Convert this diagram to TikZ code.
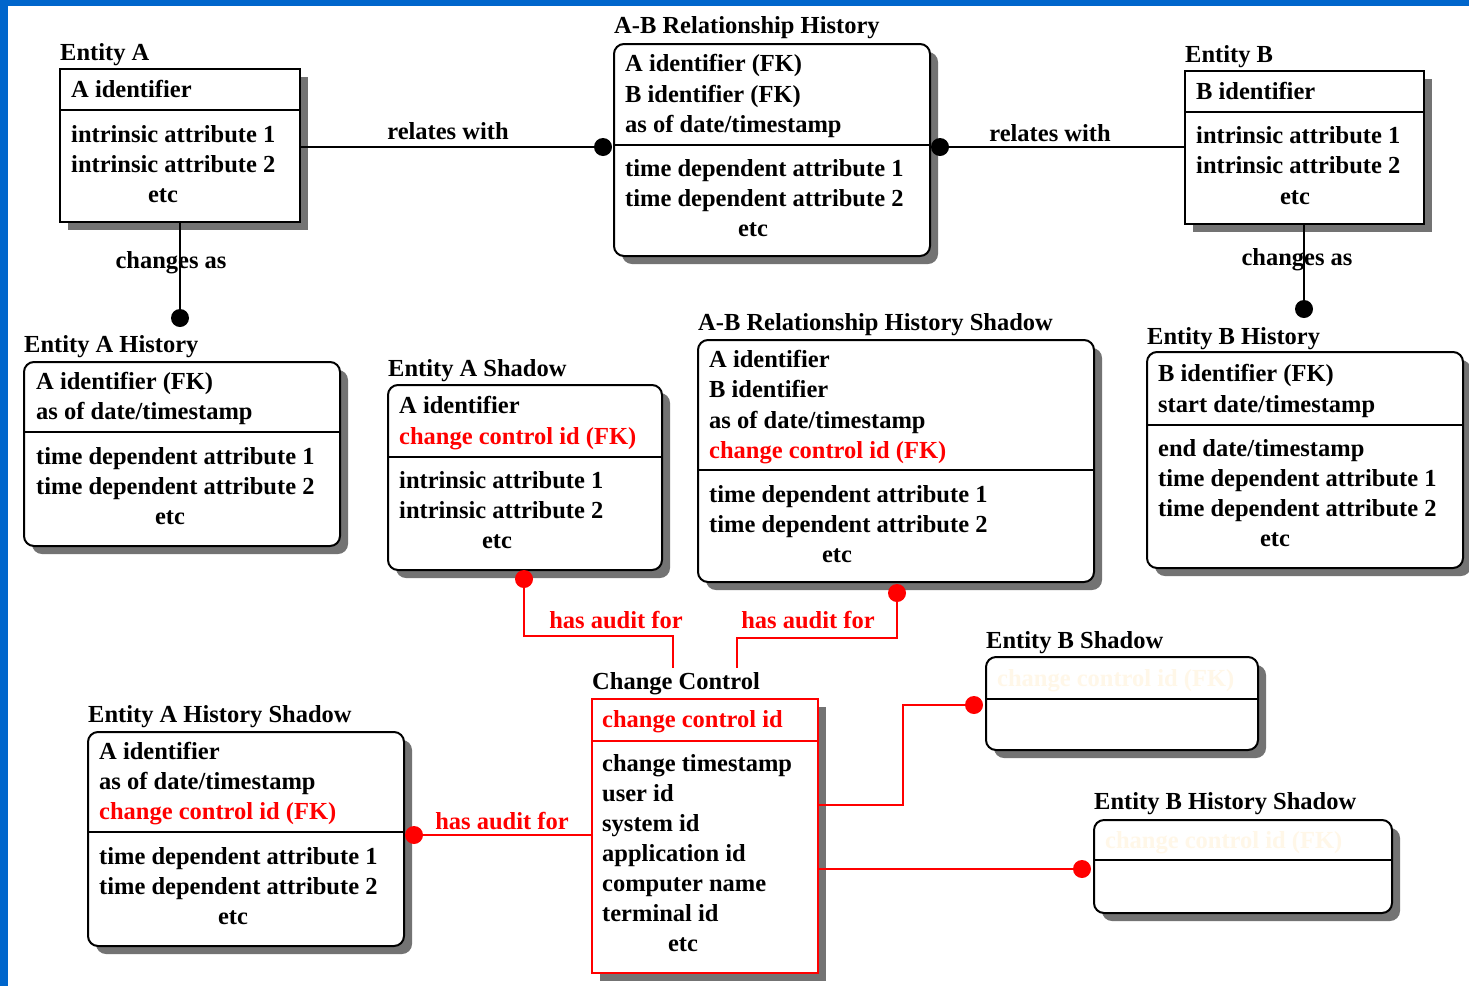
\documentclass[tikz,border=0pt]{standalone}
\usepackage{fontspec}
\setmainfont{Liberation Serif}
\usetikzlibrary{shadows}

\definecolor{frameblue}{RGB}{0,102,204}
\definecolor{auditred}{RGB}{255,0,0}
\definecolor{ghost}{RGB}{255,247,232}

\tikzset{
  box/.style={draw, line width=2pt, fill=white, inner sep=0pt, outer sep=0pt,
    drop shadow={shadow xshift=8pt, shadow yshift=-8pt, fill=black!55, opacity=1}},
  sqbox/.style={box},
  rbox/.style={box, rounded corners=10pt},
  redbox/.style={box, draw=auditred},
  txt/.style={anchor=base west, inner sep=0pt, font=\fontsize{24.5}{30}\selectfont\bfseries},
  ctxt/.style={txt, anchor=base},
  redtxt/.style={txt, text=auditred},
  redctxt/.style={ctxt, text=auditred},
  ghosttxt/.style={txt, text=ghost},
  divider/.style={line width=2pt},
  reddivider/.style={line width=2pt, draw=auditred},
  conn/.style={line width=2pt},
  rconn/.style={line width=2pt, draw=auditred},
  bdot/.style={circle, fill=black, minimum size=18pt, inner sep=0pt},
  rdot/.style={circle, fill=auditred, minimum size=18pt, inner sep=0pt},
}

% one line of text: [style]{name}{x}{baseline y}{text}
\newcommand{\attr}[5][txt]{\node[#1] (#2) at (#3,#4) {#5};}

\begin{document}
\begin{tikzpicture}[x=1pt,y=-1pt]
\useasboundingbox (0,0) rectangle (1469,986);
\fill[white] (0,0) rectangle (1469,986);
\fill[frameblue] (0,0) rectangle (1469,6);
\fill[frameblue] (0,0) rectangle (8,986);

% ---------- entity boxes ----------
\node[sqbox, minimum width=240pt, minimum height=153pt] (ea)   at (180,145.5) {};
\node[rbox,  minimum width=316pt, minimum height=212pt] (ab)   at (772,150)   {};
\node[sqbox, minimum width=239pt, minimum height=153pt] (eb)   at (1304.5,147.5) {};
\node[rbox,  minimum width=316pt, minimum height=184pt] (eah)  at (182,454)   {};
\node[rbox,  minimum width=316pt, minimum height=216pt] (ebh)  at (1305,460)  {};
\node[rbox,  minimum width=274pt, minimum height=185pt] (eas)  at (525,477.5) {};
\node[rbox,  minimum width=396pt, minimum height=242pt] (abs)  at (896,461)   {};
\node[redbox,minimum width=226pt, minimum height=274pt] (cc)   at (705,836)   {};
\node[rbox,  minimum width=316pt, minimum height=214pt] (eahs) at (246,839)   {};
\node[rbox,  minimum width=272pt, minimum height=93pt]  (ebs)  at (1122,703.5){};
\node[rbox,  minimum width=298pt, minimum height=93pt]  (ebhs) at (1243,866.5){};

% ---------- key / attribute dividers ----------
\draw[divider] (ea.west |- 0,110) -- (ea.east |- 0,110);
\draw[divider] (ab.west |- 0,145) -- (ab.east |- 0,145);
\draw[divider] (eb.west |- 0,112) -- (eb.east |- 0,112);
\draw[divider] (eah.west |- 0,432) -- (eah.east |- 0,432);
\draw[divider] (ebh.west |- 0,425) -- (ebh.east |- 0,425);
\draw[divider] (eas.west |- 0,457) -- (eas.east |- 0,457);
\draw[divider] (abs.west |- 0,470) -- (abs.east |- 0,470);
\draw[reddivider] (cc.west |- 0,741) -- (cc.east |- 0,741);
\draw[divider] (eahs.west |- 0,832) -- (eahs.east |- 0,832);
\draw[divider] (ebs.west |- 0,699) -- (ebs.east |- 0,699);
\draw[divider] (ebhs.west |- 0,860) -- (ebhs.east |- 0,860);

% ---------- titles ----------
\attr{ea-title}{60}{60}{Entity A}
\attr{ab-title}{614}{33}{A-B Relationship History}
\attr{eb-title}{1185}{62}{Entity B}
\attr{eah-title}{24}{352}{Entity A History}
\attr{ebh-title}{1147}{344}{Entity B History}
\attr{eas-title}{388}{376}{Entity A Shadow}
\attr{abs-title}{698}{330}{A-B Relationship History Shadow}
\attr{ebs-title}{986}{648}{Entity B Shadow}
\attr{cc-title}{592}{689}{Change Control}
\attr{eahs-title}{88}{722}{Entity A History Shadow}
\attr{ebhs-title}{1094}{809}{Entity B History Shadow}

% ---------- Entity A ----------
\attr{ea-k1}{71}{97}{A identifier}
\attr{ea-a1}{71}{142}{intrinsic attribute 1}
\attr{ea-a2}{71}{172}{intrinsic attribute 2}
\attr[ctxt]{ea-etc}{163}{202}{etc}

% ---------- A-B Relationship History ----------
\attr{ab-k1}{625}{71}{A identifier (FK)}
\attr{ab-k2}{625}{102}{B identifier (FK)}
\attr{ab-k3}{625}{132}{as of date/timestamp}
\attr{ab-a1}{625}{176}{time dependent attribute 1}
\attr{ab-a2}{625}{206}{time dependent attribute 2}
\attr[ctxt]{ab-etc}{753}{236}{etc}

% ---------- Entity B ----------
\attr{eb-k1}{1196}{99}{B identifier}
\attr{eb-a1}{1196}{143}{intrinsic attribute 1}
\attr{eb-a2}{1196}{173}{intrinsic attribute 2}
\attr[ctxt]{eb-etc}{1295}{204}{etc}

% ---------- Entity A History ----------
\attr{eah-k1}{36}{389}{A identifier (FK)}
\attr{eah-k2}{36}{419}{as of date/timestamp}
\attr{eah-a1}{36}{464}{time dependent attribute 1}
\attr{eah-a2}{36}{494}{time dependent attribute 2}
\attr[ctxt]{eah-etc}{170}{524}{etc}

% ---------- Entity B History ----------
\attr{ebh-k1}{1158}{381}{B identifier (FK)}
\attr{ebh-k2}{1158}{412}{start date/timestamp}
\attr{ebh-a1}{1158}{456}{end date/timestamp}
\attr{ebh-a2}{1158}{486}{time dependent attribute 1}
\attr{ebh-a3}{1158}{516}{time dependent attribute 2}
\attr[ctxt]{ebh-etc}{1275}{546}{etc}

% ---------- Entity A Shadow ----------
\attr{eas-k1}{399}{413}{A identifier}
\attr[redtxt]{eas-k2}{399}{444}{change control id (FK)}
\attr{eas-a1}{399}{488}{intrinsic attribute 1}
\attr{eas-a2}{399}{518}{intrinsic attribute 2}
\attr[ctxt]{eas-etc}{497}{548}{etc}

% ---------- A-B Relationship History Shadow ----------
\attr{abs-k1}{709}{367}{A identifier}
\attr{abs-k2}{709}{397}{B identifier}
\attr{abs-k3}{709}{428}{as of date/timestamp}
\attr[redtxt]{abs-k4}{709}{458}{change control id (FK)}
\attr{abs-a1}{709}{502}{time dependent attribute 1}
\attr{abs-a2}{709}{532}{time dependent attribute 2}
\attr[ctxt]{abs-etc}{837}{562}{etc}

% ---------- Change Control ----------
\attr[redtxt]{cc-k1}{602}{727}{change control id}
\attr{cc-a1}{602}{771}{change timestamp}
\attr{cc-a2}{602}{801}{user id}
\attr{cc-a3}{602}{831}{system id}
\attr{cc-a4}{602}{861}{application id}
\attr{cc-a5}{602}{891}{computer name}
\attr{cc-a6}{602}{921}{terminal id}
\attr[ctxt]{cc-etc}{683}{951}{etc}

% ---------- Entity A History Shadow ----------
\attr{eahs-k1}{99}{759}{A identifier}
\attr{eahs-k2}{99}{789}{as of date/timestamp}
\attr[redtxt]{eahs-k3}{99}{819}{change control id (FK)}
\attr{eahs-a1}{99}{864}{time dependent attribute 1}
\attr{eahs-a2}{99}{894}{time dependent attribute 2}
\attr[ctxt]{eahs-etc}{233}{924}{etc}

% ---------- Entity B Shadow / Entity B History Shadow ----------
\attr[ghosttxt]{ebs-k1}{997}{686}{change control id (FK)}
\attr[ghosttxt]{ebhs-k1}{1105}{848}{change control id (FK)}

% ---------- relationship ends ----------
\node[bdot] (ab-left)  at (603,147) {};
\node[bdot] (ab-right) at (940,147) {};
\node[bdot] (eah-top)  at (180,318) {};
\node[bdot] (ebh-top)  at (1304,309) {};
\node[rdot] (eas-bot)  at (524,579) {};
\node[rdot] (abs-bot)  at (897,593) {};
\node[rdot] (eahs-right) at (414,835) {};
\node[rdot] (ebs-left) at (974,705) {};
\node[rdot] (ebhs-left) at (1082,869) {};
\coordinate (cc-top1) at (673,668);
\coordinate (cc-top2) at (737,668);

% ---------- black connectors ----------
\draw[conn] (ea.east |- ab-left) -- (ab-left);
\draw[conn] (ab-right) -- (eb.west |- ab-right);
\draw[conn] (ea.south -| eah-top) -- (eah-top);
\draw[conn] (eb.south -| ebh-top) -- (ebh-top);

% ---------- red audit connectors ----------
\draw[rconn] (eas-bot) |- (673,636) -- (cc-top1);
\draw[rconn] (abs-bot) |- (737,638) -- (cc-top2);
\draw[rconn] (eahs-right) -- (cc.west |- eahs-right);
\draw[rconn] (cc.east |- 0,805) -- (903,805) |- (ebs-left);
\draw[rconn] (cc.east |- ebhs-left) -- (ebhs-left);

% ---------- connector labels ----------
\attr[ctxt]{rel-left}{448}{139}{relates with}
\attr[ctxt]{rel-right}{1050}{141}{relates with}
\attr[ctxt]{chg-left}{171}{268}{changes as}
\attr[ctxt]{chg-right}{1297}{265}{changes as}
\attr[redctxt]{aud-1}{616}{628}{has audit for}
\attr[redctxt]{aud-2}{808}{628}{has audit for}
\attr[redctxt]{aud-3}{502}{829}{has audit for}
\end{tikzpicture}
\end{document}
